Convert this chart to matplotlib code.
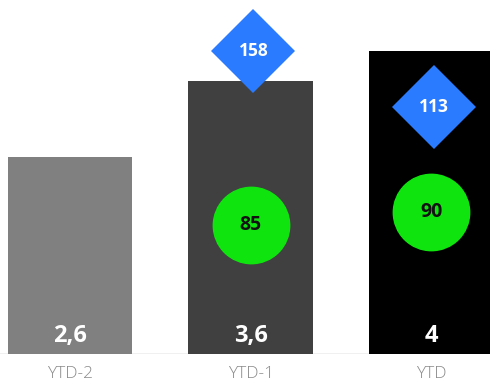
import matplotlib
matplotlib.use("Agg")
import matplotlib.pyplot as plt

categories = ["YTD-2", "YTD-1", "YTD"]
bar_values = [2.6, 3.6, 4.0]
bar_colors = ["#808080", "#404040", "#000000"]
circle_values = [None, 85, 90]
diamond_values = [None, 158, 113]

FONT = "Open Sans"

W, H = 490, 385
fig = plt.figure(figsize=(W / 100, H / 100), dpi=100)
ax = fig.add_axes([0, 31 / H, 1, 354 / H])

x = list(range(len(categories)))
bars = ax.bar(x, bar_values, width=0.69, color=bar_colors, zorder=2)
ax.set_xlim(-0.387, 2.324)
ax.set_ylim(0, 4.67)
ax.axhline(0, color="#eeeeee", lw=1.2, zorder=1)

for b, v in zip(bars, bar_values):
    label = f"{v:g}".replace(".", ",")
    ax.annotate(label, (b.get_x() + b.get_width() / 2, 0), xytext=(0, 13),
                textcoords="offset points", ha="center", va="center",
                color="white", fontsize=17, fontweight="bold", family=FONT, zorder=3)

ax.set_xticks(x)
ax.set_xticklabels(categories, family=FONT, fontsize=12.5, fontweight="light",
                   color="#8a8a8a")
ax.tick_params(axis="x", length=0, pad=9)
ax.set_yticks([])
for s in ax.spines.values():
    s.set_visible(False)

# green circles on their own scale
axc = ax.twinx()
axc.set_ylim(33.2, 174.8)
axc.axis("off")
for xi, v in zip(x, circle_values):
    if v is None:
        continue
    axc.plot([xi], [v], marker="o", ms=56, color="#0fe40f", mew=0, zorder=4)
    axc.text(xi, v, str(v), ha="center", va="center", fontsize=14,
             fontweight="bold", family=FONT, color="#111111", zorder=5)

# blue diamonds on their own scale
axd = ax.twinx()
axd.set_ylim(-82.9, 198.1)
axd.axis("off")
for xi, v in zip(x, diamond_values):
    if v is None:
        continue
    axd.plot([xi + 0.015], [v], marker="D", ms=42.8, color="#2a7bff", mew=0,
             zorder=4, clip_on=False)
    axd.text(xi + 0.015, v, str(v), ha="center", va="center", fontsize=12.5,
             fontweight="bold", family=FONT, color="white", zorder=5)

fig.savefig("out.png", dpi=100)
